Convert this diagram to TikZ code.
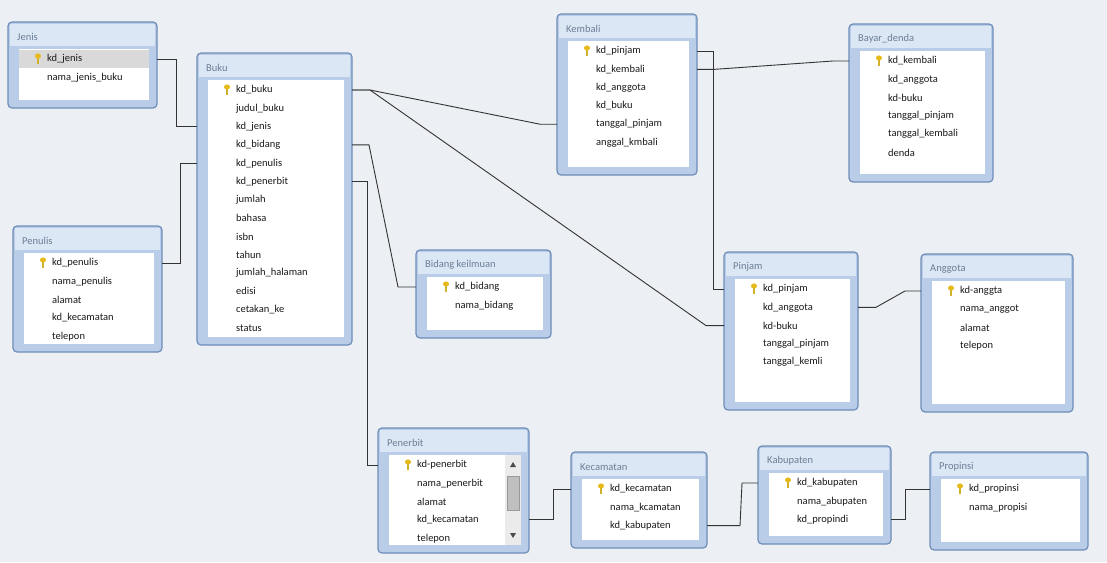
\documentclass[tikz,border=0pt]{standalone}
\usepackage{fontspec}
\setmainfont{Carlito}
\usetikzlibrary{calc}
\definecolor{bg}{HTML}{ECEFF3}
\definecolor{frm}{HTML}{6F8DB8}
\definecolor{band}{HTML}{B9CDE8}
\definecolor{ttl}{HTML}{DCE7F5}
\definecolor{ttxt}{HTML}{6B7D95}
\tikzset{
  tframe/.style={draw=frm,line width=1.2pt,fill=band,rounded corners=4pt},
  fld/.style={anchor=west,inner sep=0pt,font=\fontsize{10.5}{12}\selectfont,text=black!90},
  ttlf/.style={anchor=west,inner sep=0pt,font=\fontsize{10.5}{12}\selectfont,text=ttxt},
  rel/.style={draw=black!80,line width=0.9pt},
}
\newcommand\keyicon[2]{%
  \fill[yellow!60!orange!90!black] (#1,#2-3) ellipse (3pt and 2.6pt);
  \fill[yellow!70!orange!80!black] (#1-1.2,#2-1) rectangle (#1+1.2,#2+5);
}
\def\hlhook{}
\newcommand\dbtable[7]{%
  \draw[tframe] (#2,#3) rectangle (#4,#5);
  \fill[ttl] (#2+2,#3+2) rectangle (#4-2,#3+24);
  \fill[white] (#2+11,#3+27) rectangle (#4-8,#5-8);
  \hlhook
  \node[ttlf] (#1-t) at (#2+9,#3+15) {#6};
  \foreach \f [count=\i] in {#7} {
    \coordinate (#1-\i-l) at (#2,#3+37+18.3*\i-18.3);
    \coordinate (#1-\i-r) at (#4,#3+37+18.3*\i-18.3);
    \node[fld] (#1-\i) at (#2+39,#3+37+18.3*\i-18.3) {\f};
  }
  \keyicon{#2+30}{#3+37}
}
\begin{document}
\begin{tikzpicture}[x=1pt,y=-1pt]
\useasboundingbox (0,0) rectangle (1107,562);
\fill[bg] (0,0) rectangle (1107,562);
% Jenis
\def\hlhook{\fill[black!15] (19,50) rectangle (149,68);}
\dbtable{jenis}{8}{22}{157}{108}{Jenis}{kd\_jenis,nama\_jenis\_buku}
\def\hlhook{}
\dbtable{buku}{197}{53}{352}{345}{Buku}{kd\_buku,judul\_buku,kd\_jenis,kd\_bidang,kd\_penulis,kd\_penerbit,jumlah,bahasa,isbn,tahun,jumlah\_halaman,edisi,cetakan\_ke,status}
\dbtable{penulis}{13}{226}{162}{352}{Penulis}{kd\_penulis,nama\_penulis,alamat,kd\_kecamatan,telepon}
\dbtable{kembali}{557}{14}{697}{175}{Kembali}{kd\_pinjam,kd\_kembali,kd\_anggota,kd\_buku,tanggal\_pinjam,anggal\_kmbali}
\dbtable{bayar}{849}{24}{993}{182}{Bayar\_denda}{kd\_kembali,kd\_anggota,kd-buku,tanggal\_pinjam,tanggal\_kembali,denda}
\dbtable{bidang}{416}{250}{551}{338}{Bidang keilmuan}{kd\_bidang,nama\_bidang}
\dbtable{pinjam}{724}{252}{858}{410}{Pinjam}{kd\_pinjam,kd\_anggota,kd-buku,tanggal\_pinjam,tanggal\_kemli}
\dbtable{anggota}{921}{254}{1073}{412}{Anggota}{kd-anggta,nama\_anggot,alamat,telepon}
\dbtable{penerbit}{378}{428}{529}{553}{Penerbit}{kd-penerbit,nama\_penerbit,alamat,kd\_kecamatan,telepon}
\fill[black!8] (505,455) rectangle (521,545);
\fill[black!25,draw=black!40] (507,476) rectangle (519,510);
\fill[black!70] (510,467) -- (516,467) -- (513,462) -- cycle;
\fill[black!70] (510,533) -- (516,533) -- (513,538) -- cycle;
\dbtable{kec}{571}{452}{707}{548}{Kecamatan}{kd\_kecamatan,nama\_kcamatan,kd\_kabupaten}
\dbtable{kab}{758}{446}{891}{544}{Kabupaten}{kd\_kabupaten,nama\_abupaten,kd\_propindi}
\dbtable{prop}{930}{452}{1088}{550}{Propinsi}{kd\_propinsi,nama\_propisi}
% relationships
\draw[rel] (jenis-1-r) -- ++(19,0) |- (buku-3-l);
\draw[rel] (penulis-1-r) -- ++(18,0) |- (buku-5-l);
\draw[rel] (buku-1-r) -- ++(18,0) -- ($(kembali-5-l)+(-17,0)$) -- (kembali-5-l);
\draw[rel] (buku-1-r) -- ++(18,0) -- ($(pinjam-3-l)+(-18,0)$) -- (pinjam-3-l);
\draw[rel] (buku-4-r) -- ++(17,0) -- ($(bidang-1-l)+(-18,0)$) -- (bidang-1-l);
\draw[rel] (buku-6-r) -- ++(15,0) -- ($(penerbit-1-l)+(-11,0)$) -- (penerbit-1-l);
\draw[rel] (kembali-1-r) -- ++(16,0) |- (pinjam-1-l);
\draw[rel] (kembali-2-r) -- ++(18,0) -- ($(bayar-1-l)+(-16,0)$) -- (bayar-1-l);
\draw[rel] (pinjam-2-r) -- ++(18,0) -- ($(anggota-1-l)+(-16,0)$) -- (anggota-1-l);
\draw[rel] (penerbit-4-r) -- ++(24,0) |- (kec-1-l);
\draw[rel] (kec-3-r) -- ++(33,0) -- ($(kab-1-l)+(-16,0)$) -- (kab-1-l);
\draw[rel] (kab-3-r) -- ++(14,0) |- (prop-1-l);
\end{tikzpicture}
\end{document}
